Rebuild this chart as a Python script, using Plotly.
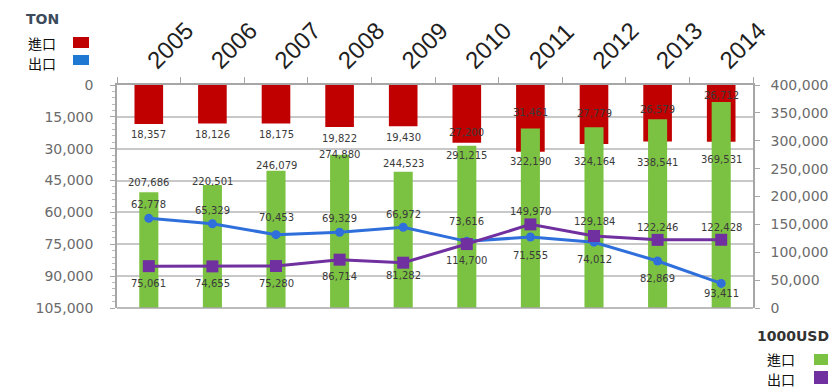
import plotly.graph_objects as go

years = ["2005", "2006", "2007", "2008", "2009", "2010", "2011", "2012", "2013", "2014"]
import_ton = [18357, 18126, 18175, 19822, 19430, 27200, 31461, 27779, 26579, 26712]
export_ton = [62778, 65329, 70453, 69329, 66972, 73616, 71555, 74012, 82869, 93411]
import_usd = [207686, 220501, 246079, 274880, 244523, 291215, 322190, 324164, 338541, 369531]
export_usd = [75061, 74655, 75280, 86714, 81282, 114700, 149970, 129184, 122246, 122428]
ton_ticks = [0, 15000, 30000, 45000, 60000, 75000, 90000, 105000]
usd_ticks = [0, 50000, 100000, 150000, 200000, 250000, 300000, 350000, 400000]

# label offsets (pixels, positive = up)
red_shift = [-11, -11, -11, -11, -11, 10, 39, 31, 32, 46]
green_shift = [10, 4, 5, 0, 8, -10, -33, -34, -43, -58]
blue_shift = [14, 13, 17, 14, 13, 20, -19, -17, -17, -10]
purple_shift = [-17, -17, -17, -17, -13, -16, 13, 14, 12, 12]

RED = "#c00000"
GREEN = "#7cc242"
BLUE = "#2f6fdc"
PURPLE = "#7030a0"
AX = "#a6a6a6"
TXT = "#6b6b6b"

fig = go.Figure()
fig.add_trace(go.Bar(x=years, y=import_ton, yaxis="y", marker_color=RED, width=0.45,
                     marker_line_width=0, showlegend=False))
fig.add_trace(go.Bar(x=years, y=import_usd, yaxis="y2", marker_color=GREEN, width=0.3,
                     marker_line_width=0, showlegend=False))
fig.add_trace(go.Scatter(x=years, y=export_ton, yaxis="y3", mode="lines+markers",
                         line=dict(color=BLUE, width=3),
                         marker=dict(symbol="circle", size=9, color=BLUE),
                         showlegend=False))
fig.add_trace(go.Scatter(x=years, y=export_usd, yaxis="y4", mode="lines+markers",
                         line=dict(color=PURPLE, width=3),
                         marker=dict(symbol="square", size=12, color=PURPLE),
                         showlegend=False))

lab_font = dict(family="DejaVu Sans", size=10, color="#3a3a3a")
annots = []
for i, yr in enumerate(years):
    common = dict(x=i, xref="x", showarrow=False, font=lab_font,
                  xanchor="center", yanchor="middle")
    annots.append(dict(common, y=import_ton[i], yref="y", text=f"{import_ton[i]:,}",
                       yshift=red_shift[i]))
    annots.append(dict(common, y=import_usd[i], yref="y2", text=f"{import_usd[i]:,}",
                       yshift=green_shift[i]))
    annots.append(dict(common, y=export_ton[i], yref="y", text=f"{export_ton[i]:,}",
                       yshift=blue_shift[i]))
    annots.append(dict(common, y=export_usd[i], yref="y2", text=f"{export_usd[i]:,}",
                       yshift=purple_shift[i]))

# plot area in pixels
PX0, PX1, PY0, PY1 = 117, 753, 85, 308
def px(xp):
    return (xp - PX0) / (PX1 - PX0)
def py(yp):
    return (PY1 - yp) / (PY1 - PY0)

cjk = "Noto Sans CJK TC"
def lab(xp, yp, text, font):
    return dict(x=px(xp), y=py(yp), xref="paper", yref="paper", text=text, showarrow=False,
                xanchor="center", yanchor="middle", font=font)

cjk_font = dict(family=cjk, size=14, color="#111")
annots += [
    lab(42, 19, "<b>TON</b>", dict(family="DejaVu Sans", size=14, color="#3c4a5c")),
    lab(42, 42.5, "進口", cjk_font),
    lab(42, 63, "出口", cjk_font),
    lab(793, 336, "<b>1000USD</b>", dict(family="DejaVu Sans", size=14, color="#333")),
    lab(781, 358.5, "進口", cjk_font),
    lab(781, 379, "出口", cjk_font),
]

def sq(x0, y0, x1, y1, color):
    return dict(type="rect", xref="paper", yref="paper", x0=px(x0), x1=px(x1), y0=py(y1), y1=py(y0),
                fillcolor=color, line=dict(width=0), layer="above")

shapes = [
    sq(73, 37, 89, 48, RED),
    sq(73, 55, 89, 65, "#1f78d1"),
    sq(814, 354, 828, 365, GREEN),
    sq(814, 371, 828, 384, PURPLE),
    dict(type="line", xref="paper", yref="paper", x0=0, x1=1, y0=0, y1=0,
         line=dict(color=AX, width=1.5)),
]

fig.update_layout(
    width=839, height=390,
    margin=dict(l=PX0, r=839 - PX1, t=PY0, b=390 - PY1),
    paper_bgcolor="white", plot_bgcolor="white",
    barmode="overlay",
    xaxis=dict(type="category", side="top", tickangle=-45, range=[-0.5, 9.5],
               ticks="outside", tickson="boundaries", ticklen=6, tickcolor=AX,
               showline=True, linecolor=AX, linewidth=1.5, showgrid=False,
               tickfont=dict(family="Liberation Sans", size=24, color="#1f1f1f")),
    yaxis=dict(range=[105000, 0], tickvals=ton_ticks, ticktext=[f"{v:,}" for v in ton_ticks],
               showgrid=True, gridcolor="#c8c8c8", gridwidth=1.5, zeroline=False,
               showline=True, linecolor=AX, linewidth=1.5, ticks="outside", ticklen=5,
               tickcolor=AX, ticklabelstandoff=14,
               minor=dict(ticks="outside", ticklen=3, dtick=3000, tickcolor="#bbbbbb", showgrid=False),
               tickfont=dict(family="DejaVu Sans", size=14, color=TXT)),
    yaxis2=dict(overlaying="y", side="right", range=[0, 400000], tickvals=usd_ticks,
                ticktext=[f"{v:,}" for v in usd_ticks], showgrid=False, zeroline=False,
                showline=True, linecolor=AX, linewidth=1.5, ticks="outside", ticklen=5,
                tickcolor=AX, ticklabelstandoff=8,
                tickfont=dict(family="DejaVu Sans", size=14, color=TXT)),
    yaxis3=dict(overlaying="y", range=[105000, 0], visible=False),
    yaxis4=dict(overlaying="y", range=[0, 400000], visible=False),
    annotations=annots,
    shapes=shapes,
)

fig.write_html("out.html")
